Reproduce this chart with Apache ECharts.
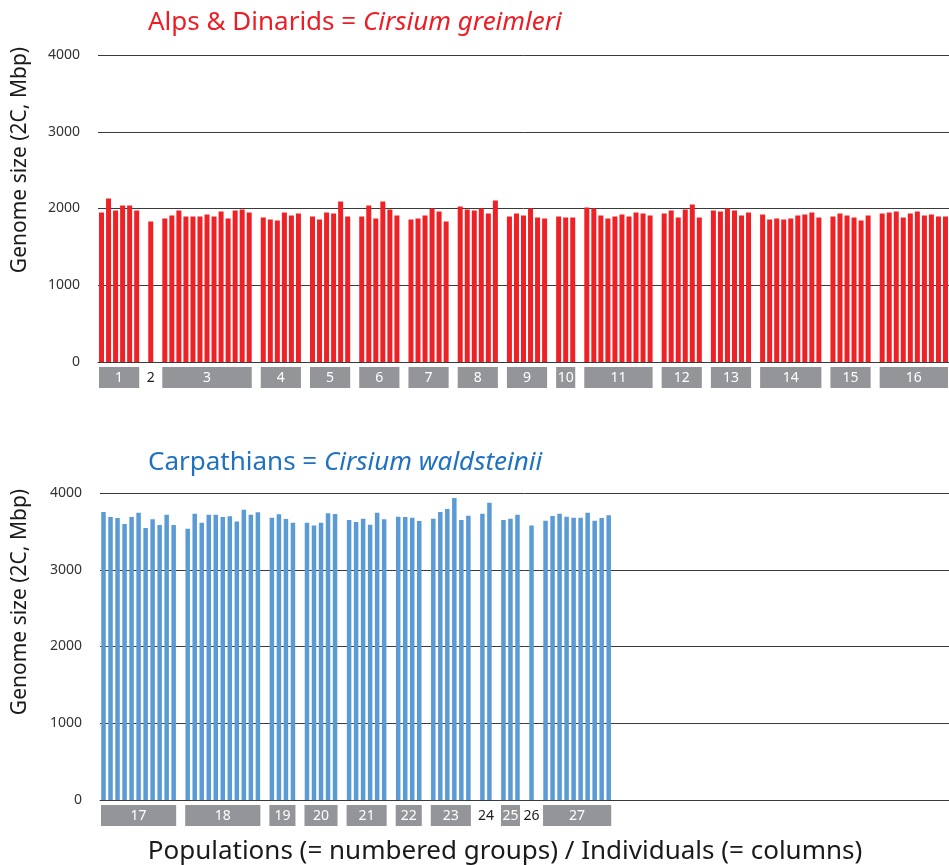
<!DOCTYPE html>
<html>
<head>
<meta charset="utf-8">
<script src="https://cdn.jsdelivr.net/npm/echarts@6/dist/echarts.min.js"></script>
<style>
  html, body { margin: 0; padding: 0; background: #fff; }
  #chart { width: 949px; height: 865px; }
</style>
</head>
<body>
<div id="chart"></div>
<script>
// Genome size (2C, Mbp) per individual, grouped by population
const greimleriLabels = ['1', '2', '3', '4', '5', '6', '7', '8', '9', '10', '11', '12', '13', '14', '15', '16']
const greimleri = [
  [1948, 2130, 1974, 2039, 2039, 1974],
  [1830],
  [1870, 1909, 1974, 1896, 1896, 1896, 1922, 1896, 1961, 1870, 1974, 1987, 1948],
  [1883, 1857, 1843, 1948, 1909, 1935],
  [1896, 1857, 1948, 1935, 2091, 1896],
  [1896, 2039, 1870, 2091, 1987, 1909],
  [1857, 1870, 1909, 2000, 1961, 1830],
  [2026, 1987, 1974, 2000, 1935, 2104],
  [1896, 1935, 1909, 2000, 1883, 1870],
  [1896, 1883, 1883],
  [2013, 2000, 1909, 1870, 1896, 1922, 1896, 1948, 1935, 1909],
  [1935, 1974, 1883, 1987, 2052, 1883],
  [1974, 1961, 2000, 1974, 1909, 1948],
  [1922, 1857, 1870, 1857, 1870, 1909, 1922, 1948, 1883],
  [1896, 1935, 1909, 1883, 1843, 1909],
  [1935, 1948, 1961, 1883, 1935, 1961, 1909, 1922, 1896, 1896]
]

const waldsteiniiLabels = ['17', '18', '19', '20', '21', '22', '23', '24', '25', '26', '27']
const waldsteinii = [
  [3752, 3687, 3674, 3596, 3687, 3743, 3543, 3657, 3583, 3717, 3583],
  [3535, 3730, 3613, 3717, 3717, 3687, 3696, 3630, 3783, 3717, 3748],
  [3678, 3722, 3661, 3613],
  [3613, 3578, 3613, 3735, 3726],
  [3648, 3622, 3665, 3587, 3743, 3657],
  [3691, 3687, 3678, 3635],
  [3665, 3752, 3791, 3935, 3648, 3704],
  [3730, 3874],
  [3648, 3665, 3717],
  [3578],
  [3639, 3700, 3730, 3691, 3678, 3678, 3743, 3639, 3674, 3709]
]

const yTicks = [0, 1000, 2000, 3000, 4000]
const slotCount = 121

// flatten groups into columns with one empty column between groups
function buildColumns(groups) {
  const values = []
  const spans = []
  groups.forEach((g, i) => {
    const start = values.length
    g.forEach(v => values.push(v))
    spans.push([start, values.length - 1, g.length])
    if (i < groups.length - 1) values.push(null)
  })
  while (values.length < slotCount) values.push(null)
  return { values, spans }
}

const alpsCols = buildColumns(greimleri)
const carpCols = buildColumns(waldsteinii)
const cats = Array.from({ length: slotCount }, (_, i) => String(i))

const FONT = 'Noto Sans'
const gridColor = '#3a3a3a'

function groupBoxes(labels) {
  return function (params, api) {
    const s = api.value(0)
    const e = api.value(1)
    const n = api.value(2)
    const p0 = api.coord([s, 0])
    const p1 = api.coord([e, 0])
    const w = api.size([1, 0])[0]
    const x0 = p0[0] - w / 2 + 1
    const x1 = p1[0] + w / 2 - 1
    const y = p0[1] + 5
    const boxed = n > 2
    const children = []
    if (boxed) {
      children.push({
        type: 'rect',
        shape: { x: x0, y: y, width: x1 - x0, height: 21 },
        style: { fill: '#939598' }
      })
    }
    children.push({
      type: 'text',
      style: {
        x: (x0 + x1) / 2,
        y: y + 11,
        text: labels[params.dataIndex],
        fill: boxed ? '#ffffff' : '#1a1a1a',
        font: '14px "' + FONT + '"',
        align: 'center',
        verticalAlign: 'middle'
      }
    })
    return { type: 'group', children }
  }
}

function yAxisOpt(gridIndex) {
  return {
    type: 'value',
    gridIndex,
    min: yTicks[0],
    max: yTicks[yTicks.length - 1],
    interval: 1000,
    axisLine: { show: false },
    axisTick: { show: false },
    axisLabel: { color: '#333', fontFamily: FONT, fontSize: 14, margin: 18, formatter: v => String(v) },
    splitLine: { lineStyle: { color: gridColor, width: 1 } }
  }
}

function xAxisOpt(gridIndex) {
  return {
    type: 'category',
    gridIndex,
    data: cats,
    axisLine: { lineStyle: { color: gridColor, width: 1 } },
    axisTick: { show: false },
    axisLabel: { show: false },
    splitLine: { show: false }
  }
}

function titleRich(color) {
  return {
    a: { color, fontFamily: FONT, fontSize: 26, fontWeight: 'normal' },
    b: { color, fontFamily: FONT, fontSize: 26, fontWeight: 'normal', fontStyle: 'italic' }
  }
}

const chart = echarts.init(document.getElementById('chart'))

chart.setOption({
  animation: false,
  title: [
    {
      text: '{a|Alps & Dinarids = }{b|Cirsium greimleri}',
      left: 143,
      top: 5,
      textStyle: { fontWeight: 'normal', rich: titleRich('#ee1c25') }
    },
    {
      text: '{a|Carpathians = }{b|Cirsium waldsteinii}',
      left: 143,
      top: 445,
      textStyle: { fontWeight: 'normal', rich: titleRich('#2072c0') }
    }
  ],
  graphic: [
    {
      type: 'text',
      x: 20, y: 160, rotation: Math.PI / 2,
      style: { text: 'Genome size (2C, Mbp)', fill: '#1a1a1a', font: '21px "' + FONT + '"', align: 'center', verticalAlign: 'middle' }
    },
    {
      type: 'text',
      x: 20, y: 602, rotation: Math.PI / 2,
      style: { text: 'Genome size (2C, Mbp)', fill: '#1a1a1a', font: '21px "' + FONT + '"', align: 'center', verticalAlign: 'middle' }
    },
    {
      type: 'text',
      x: 505, y: 852,
      style: { text: 'Populations (= numbered groups) / Individuals (= columns)', fill: '#1a1a1a', font: '26px "' + FONT + '"', align: 'center', verticalAlign: 'middle' }
    }
  ],
  grid: [
    { left: 98, right: 0, top: 55, height: 307 },
    { left: 100, right: 0, top: 493, height: 307 }
  ],
  xAxis: [xAxisOpt(0), xAxisOpt(1)],
  yAxis: [yAxisOpt(0), yAxisOpt(1)],
  series: [
    {
      type: 'bar', xAxisIndex: 0, yAxisIndex: 0,
      data: alpsCols.values, barWidth: 5,
      itemStyle: { color: '#ee2226' }
    },
    {
      type: 'bar', xAxisIndex: 1, yAxisIndex: 1,
      data: carpCols.values, barWidth: 4.5,
      itemStyle: { color: '#5b9bd5' }
    },
    {
      type: 'custom', xAxisIndex: 0, yAxisIndex: 0, clip: false,
      data: alpsCols.spans, renderItem: groupBoxes(greimleriLabels)
    },
    {
      type: 'custom', xAxisIndex: 1, yAxisIndex: 1, clip: false,
      data: carpCols.spans, renderItem: groupBoxes(waldsteiniiLabels)
    }
  ]
})
</script>
</body>
</html>
